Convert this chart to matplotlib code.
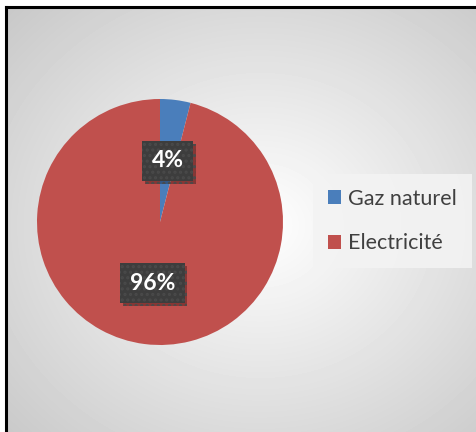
import numpy as np
import matplotlib.pyplot as plt
from matplotlib import patheffects
from matplotlib.lines import Line2D

plt.rcParams['font.family'] = ['Lato', 'DejaVu Sans']
plt.rcParams['hatch.linewidth'] = 1.5

# energy share of consumption
labels = ['Gaz naturel', 'Electricité']
shares = [4, 96]
colors = ['#4a7ebb', '#c0504d']

W, H = 477, 432
fig = plt.figure(figsize=(W / 100, H / 100), dpi=100)

# radial grey background of the chart area
bg = fig.add_axes([0, 0, 1, 1])
yy, xx = np.mgrid[0:H, 0:W]
cx, cy = 260, 225
d = np.sqrt(((xx - cx) / 255.0) ** 2 + ((yy - cy) / 225.0) ** 2) / np.sqrt(2)
val = 1.0 - 0.22 * np.clip(d, 0, 1.1)
val[(xx < 7) | (yy < 7)] = 1.0
bg.imshow(val, cmap='gray', vmin=0, vmax=1, extent=(0, W, H, 0), interpolation='bilinear')
bg.set_xlim(0, W)
bg.set_ylim(H, 0)
bg.axis('off')
bg.add_line(Line2D([6.5, W], [6.5, 6.5], color='black', lw=2.2))
bg.add_line(Line2D([6.5, 6.5], [6.5, H], color='black', lw=2.2))

# pie centred at (160, 222) px with radius 123 px
r, pcx, pcy = 123, 160, 222
ax = fig.add_axes([(pcx - r) / W, (H - pcy - r) / H, 2 * r / W, 2 * r / H])
wedges, _, autotexts = ax.pie(shares, colors=colors, startangle=90, counterclock=False,
                              autopct='%d%%', pctdistance=0.5,
                              wedgeprops=dict(linewidth=0))
ax.set_xlim(-1, 1)
ax.set_ylim(-1, 1)

for t in autotexts:
    t.set_color('white')
    t.set_fontsize(16.5)
    t.set_fontweight('bold')
    t.set_bbox(dict(boxstyle='square,pad=0.42', facecolor='#3d3d3d',
                    edgecolor='#4a4a4a', linewidth=0, hatch='...'))
    t.get_bbox_patch().set_path_effects([
        patheffects.withSimplePatchShadow(offset=(2, -2), shadow_rgbFace='black', alpha=0.3),
        patheffects.Normal()])

leg = fig.legend(wedges, labels, loc='center left',
                 bbox_to_anchor=(313 / W, 1 - 221 / H),
                 fontsize=15.5, frameon=True, fancybox=False,
                 handlelength=0.62, handleheight=0.62, handletextpad=0.3,
                 labelspacing=1.15, borderpad=0.7, borderaxespad=0)
leg.get_frame().set_facecolor('#f3f3f3')
leg.get_frame().set_edgecolor('none')
leg.get_frame().set_alpha(0.9)
for t in leg.get_texts():
    t.set_color('#404040')

fig.savefig('out.png', dpi=100)
